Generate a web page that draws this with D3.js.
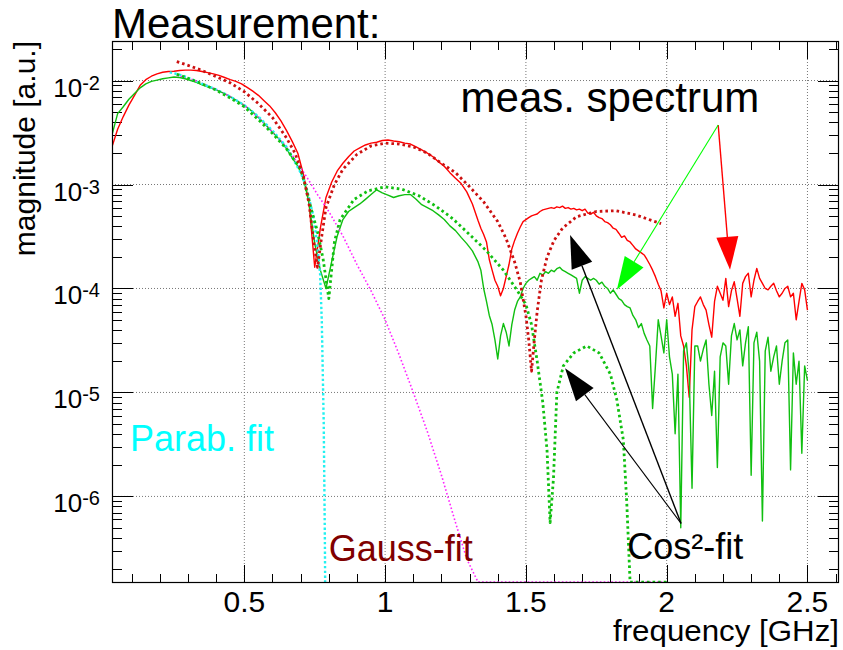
<!DOCTYPE html>
<html><head><meta charset="utf-8">
<script src="https://cdn.jsdelivr.net/npm/d3@7"></script>
<style>
body{margin:0;background:#fff}
svg{display:block}
text{font-family:"Liberation Sans",Arial,Helvetica,sans-serif}
</style>
</head><body>
<svg id="c" width="843" height="650"></svg>
<script>
// ---------------- data ----------------
// measured spectra: frequency grid (GHz)
const freqMeasA = d3.range(0, 66).map(i => +(0.03 + 0.02 * i).toFixed(2));   // 0.03 .. 1.33
const freqMeasB = d3.range(0, 117).map(i => +(1.34 + 0.01 * i).toFixed(2));  // 1.34 .. 2.50
const freqMeas = freqMeasA.concat(freqMeasB);

const measRed = [
 2.3e-3,3.4e-3,4.5e-3,5.8e-3,7.2e-3,9.0e-3,1.02e-2,1.1e-2,1.16e-2,1.2e-2,
 1.22e-2,1.23e-2,1.25e-2,1.26e-2,1.26e-2,1.25e-2,1.22e-2,1.19e-2,1.16e-2,1.12e-2,
 1.07e-2,1.02e-2,9.8e-3,9.3e-3,8.6e-3,7.9e-3,7.2e-3,6.4e-3,5.7e-3,4.9e-3,
 4.1e-3,3.3e-3,2.6e-3,2.0e-3,1.25e-3,6.5e-4,1.6e-4,3.8e-4,7.5e-4,1.05e-3,
 1.35e-3,1.6e-3,1.85e-3,2.1e-3,2.25e-3,2.4e-3,2.5e-3,2.55e-3,2.65e-3,2.68e-3,
 2.62e-3,2.58e-3,2.5e-3,2.45e-3,2.3e-3,2.15e-3,2.0e-3,1.85e-3,1.65e-3,1.5e-3,
 1.3e-3,1.15e-3,1.02e-3,8.5e-4,6.5e-4,4.5e-4,
 // 1.34 ..
 3.8e-4,3.3e-4,2.8e-4,1.9e-4,1.5e-4,1.2e-4,1.05e-4,8.5e-5,1.0e-4,1.3e-4,
 1.7e-4,2.4e-4,2.9e-4,3.4e-4,3.9e-4,4.4e-4,4.6e-4,4.8e-4,5.0e-4,5.1e-4,
 5.2e-4,5.5e-4,5.7e-4,5.8e-4,5.9e-4,6.0e-4,5.9e-4,6.1e-4,6.0e-4,6.2e-4,
 5.9e-4,6.0e-4,5.8e-4,5.9e-4,5.7e-4,5.8e-4,5.6e-4,5.8e-4,5.3e-4,5.2e-4,
 5.4e-4,5.0e-4,4.8e-4,4.7e-4,4.4e-4,4.3e-4,4.1e-4,3.8e-4,3.7e-4,3.4e-4,
 3.1e-4,3.2e-4,2.9e-4,2.8e-4,2.6e-4,2.4e-4,2.3e-4,2.2e-4,2.1e-4,1.9e-4,
 1.7e-4,1.5e-4,1.3e-4,1.1e-4,9.5e-5,6.5e-5,9.0e-5,7.0e-5,8.3e-5,5.4e-5,
 7.2e-5,3.5e-5,2.8e-5,1.8e-5,9.0e-6,4.0e-5,6.7e-5,7.5e-5,8.3e-5,7.0e-5,
 6.2e-5,4.5e-5,3.4e-5,7.5e-5,1.05e-4,9.0e-5,7.7e-5,1.25e-4,6.7e-5,9.5e-5,
 1.16e-4,8.0e-5,5.4e-5,1.12e-4,1.3e-4,1.4e-4,8.3e-5,1.2e-4,1.56e-4,1.25e-4,
 1.12e-4,1.0e-4,9.7e-5,1.05e-4,1.12e-4,9.5e-5,8.3e-5,9.0e-5,1.0e-4,1.05e-4,
 8.3e-5,9.0e-5,5.0e-5,7.5e-5,1.12e-4,9.7e-5,6.2e-5
];

const measGreen = [
 3.0e-3,4.8e-3,5.6e-3,6.6e-3,7.5e-3,8.5e-3,9.3e-3,9.8e-3,1.01e-2,1.04e-2,
 1.06e-2,1.08e-2,1.07e-2,1.04e-2,1.0e-2,9.6e-3,9.1e-3,8.7e-3,8.3e-3,7.9e-3,
 7.5e-3,7.0e-3,6.5e-3,6.0e-3,5.5e-3,5.0e-3,4.4e-3,3.9e-3,3.4e-3,3.0e-3,
 2.6e-3,2.2e-3,1.8e-3,1.5e-3,1.15e-3,6.5e-4,2.7e-4,1.5e-4,1.0e-4,1.8e-4,
 3.2e-4,4.6e-4,5.5e-4,6.0e-4,6.5e-4,7.2e-4,8.0e-4,8.9e-4,8.3e-4,7.9e-4,
 7.5e-4,7.8e-4,8.0e-4,8.0e-4,7.2e-4,6.4e-4,6.0e-4,5.6e-4,5.1e-4,4.6e-4,
 4.0e-4,3.6e-4,3.1e-4,2.7e-4,2.3e-4,1.8e-4,
 // 1.34 ..
 1.5e-4,1.0e-4,7.5e-5,5.5e-5,4.5e-5,3.2e-5,2.1e-5,3.5e-5,4.6e-5,3.8e-5,
 2.8e-5,4.5e-5,6.2e-5,7.5e-5,8.3e-5,1.0e-4,1.12e-4,1.2e-4,1.25e-4,1.3e-4,
 1.2e-4,1.4e-4,1.35e-4,1.45e-4,1.4e-4,1.5e-4,1.45e-4,1.55e-4,1.6e-4,1.5e-4,
 1.45e-4,1.4e-4,1.35e-4,1.3e-4,1.25e-4,9.0e-5,1.2e-4,1.3e-4,1.25e-4,1.2e-4,
 1.25e-4,1.2e-4,1.1e-4,1.15e-4,1.05e-4,1.0e-4,9.0e-5,9.7e-5,8.8e-5,8.0e-5,
 7.7e-5,7.0e-5,6.7e-5,6.5e-5,5.5e-5,5.0e-5,4.2e-5,4.6e-5,3.7e-5,3.2e-5,
 2.8e-5,7.0e-6,1.8e-5,5.0e-5,3.5e-5,2.4e-5,5.0e-5,2.2e-5,1.5e-5,4.0e-6,
 1.5e-5,5.0e-7,2.5e-5,3.0e-5,1.5e-5,1.2e-6,2.8e-5,2.8e-5,2.0e-5,2.6e-5,
 3.2e-5,1.2e-5,6.0e-6,1.6e-5,1.9e-6,2.2e-5,3.0e-5,2.8e-5,1.2e-5,3.5e-5,
 4.6e-5,3.2e-5,4.0e-5,1.8e-5,3.0e-5,4.3e-5,1.6e-6,3.0e-5,3.8e-5,2.0e-5,
 5.8e-7,2.5e-5,3.4e-5,1.6e-5,2.2e-5,2.8e-5,1.2e-5,2.0e-5,3.0e-5,3.2e-5,
 1.8e-6,2.4e-5,1.2e-5,2.0e-5,2.6e-6,1.8e-5,1.3e-5
];

// Cos^2 fits
const freqCosRed = [0.26,0.30,0.35,0.40,0.45,0.50,0.55,0.60,0.65,0.68,0.71,0.73,0.745,0.76,0.775,0.79,0.82,0.85,0.90,0.95,1.00,1.05,1.10,1.15,1.20,1.25,1.30,1.35,1.40,1.43,1.46,1.48,1.50,1.51,1.52,1.53,1.54,1.555,1.575,1.60,1.63,1.68,1.75,1.82,1.89,1.98];
const fitCosRed  = [1.52e-2,1.4e-2,1.25e-2,1.09e-2,9.5e-3,7.8e-3,6.0e-3,4.4e-3,2.8e-3,2.0e-3,1.2e-3,6.5e-4,3.0e-4,1.6e-4,3.2e-4,6.0e-4,1.0e-3,1.4e-3,1.95e-3,2.35e-3,2.5e-3,2.45e-3,2.3e-3,2.0e-3,1.6e-3,1.3e-3,9.5e-4,6.8e-4,4.4e-4,3.0e-4,1.8e-4,1.15e-4,5.5e-5,3.2e-5,1.6e-5,3.2e-5,6.0e-5,1.2e-4,2.0e-4,2.9e-4,3.8e-4,4.9e-4,5.5e-4,5.6e-4,5.1e-4,4.2e-4];

const freqCosGreen = [0.26,0.30,0.35,0.40,0.45,0.50,0.55,0.60,0.65,0.70,0.72,0.74,0.76,0.78,0.80,0.82,0.84,0.89,0.94,1.00,1.06,1.12,1.18,1.24,1.30,1.36,1.42,1.47,1.50,1.52,1.54,1.56,1.575,1.586,1.598,1.61,1.633,1.67,1.716,1.76,1.80,1.823,1.846,1.858,1.87,2.00];
const fitCosGreen  = [1.15e-2,1.05e-2,9.3e-3,8.1e-3,6.8e-3,5.6e-3,4.2e-3,3.1e-3,2.2e-3,1.4e-3,9.0e-4,5.5e-4,3.5e-4,1.9e-4,8.0e-5,2.8e-4,4.6e-4,7.2e-4,8.7e-4,9.5e-4,9.0e-4,7.8e-4,6.2e-4,4.7e-4,3.3e-4,2.3e-4,1.5e-4,9.5e-5,7.0e-5,4.5e-5,2.0e-5,8.0e-6,2.8e-6,5.6e-7,1.5e-6,1.0e-5,1.8e-5,2.4e-5,2.8e-5,2.4e-5,1.5e-5,8.5e-6,3.5e-6,9.0e-7,1.5e-7,1.5e-7];

// Parabolic fit
const freqParab = [0.235,0.28,0.35,0.40,0.45,0.50,0.55,0.60,0.65,0.70,0.72,0.745,0.757,0.769,0.775,0.782,0.786,0.787];
const fitParab  = [1.2e-2,1.12e-2,9.3e-3,8.2e-3,7.0e-3,5.8e-3,4.5e-3,3.3e-3,2.3e-3,1.3e-3,9.5e-4,5.0e-4,2.9e-4,1.4e-4,5.0e-5,5.0e-6,4.0e-7,1.5e-7];

// Gauss fit
const freqGauss = [0.26,0.30,0.35,0.40,0.45,0.50,0.55,0.60,0.65,0.70,0.72,0.76,0.80,0.85,0.90,0.95,1.00,1.05,1.10,1.15,1.20,1.25,1.29,1.33,2.00];
const fitGauss  = [1.12e-2,1.06e-2,9.4e-3,8.2e-3,7.0e-3,5.8e-3,4.4e-3,3.2e-3,2.3e-3,1.45e-3,1.2e-3,8.0e-4,5.5e-4,3.2e-4,1.7e-4,9.5e-5,5.0e-5,2.3e-5,1.0e-5,4.2e-6,1.6e-6,5.6e-7,2.5e-7,1.5e-7,1.5e-7];

// axis ticks
const xTickValues = [0.5, 1, 1.5, 2, 2.5];
const xTickLabels = ["0.5", "1", "1.5", "2", "2.5"];
const yDecades = [-6, -5, -4, -3, -2];

// annotations (data coordinates: [GHz, magnitude])
const arrowMeasFrom = [2.183, 3.73e-3];
const arrowMeasRedTip = [2.225, 1.51e-4];
const arrowMeasGreenTip = [1.823, 9.7e-5];
const arrowCosFrom = [2.051, 5.5e-7];
const arrowCosTip1 = [1.657, 3.27e-4];
const arrowCosTip2 = [1.639, 1.71e-5];
const labelMeas = [1.268, 4.97e-3];
const labelParab = [0.094, 2.75e-6];
const labelGauss = [0.800, 2.4e-7];
const labelCos = [1.860, 2.5e-7];

// ---------------- chart ----------------
const svg = d3.select("#c");
const L = 112, R = 839, T = 41, B = 583;
const x = d3.scaleLinear().domain([0.03, 2.612]).range([L, R]);
const y = d3.scaleLog().domain([1.47e-7, 2.4e-2]).range([B, T]);

svg.append("rect").attr("width", 843).attr("height", 650).attr("fill", "#fff");

svg.append("defs").append("clipPath").attr("id", "clip")
  .append("rect").attr("x", L).attr("y", T).attr("width", R - L).attr("height", B - T);

// grid
const grid = svg.append("g").attr("stroke", "#777").attr("stroke-width", 1).attr("stroke-dasharray", "1,2");
xTickValues.forEach(v => grid.append("line").attr("x1", x(v)).attr("x2", x(v)).attr("y1", T).attr("y2", B));
yDecades.forEach(k => grid.append("line").attr("x1", L).attr("x2", R).attr("y1", y(Math.pow(10, k))).attr("y2", y(Math.pow(10, k))));

// ticks
const ticks = svg.append("g").attr("stroke", "#000").attr("stroke-width", 1);
d3.range(1, 27).forEach(i => {
  const v = i / 10;
  if (v > 2.612) return;
  const major = (i % 5 === 0);
  const len = major ? 18 : 9;
  const px = Math.round(x(v)) + 0.5;
  ticks.append("line").attr("x1", px).attr("x2", px).attr("y1", B).attr("y2", B - len);
  ticks.append("line").attr("x1", px).attr("x2", px).attr("y1", T).attr("y2", T + len);
});
for (let k = -7; k <= -1; k++) {
  for (let m = 1; m <= 9; m++) {
    const v = m * Math.pow(10, k);
    if (v < 1.47e-7 || v > 2.4e-2) continue;
    const len = m === 1 ? 21 : 10;
    const py = Math.round(y(v)) + 0.5;
    ticks.append("line").attr("x1", L).attr("x2", L + len).attr("y1", py).attr("y2", py);
    ticks.append("line").attr("x1", R).attr("x2", R - len).attr("y1", py).attr("y2", py);
  }
}

// curves
const plot = svg.append("g").attr("clip-path", "url(#clip)");
const line = d3.line().x(d => x(d[0])).y(d => y(d[1]));
function series(fx, vals, color, width, dash) {
  const n = Math.min(fx.length, vals.length);
  const pts = d3.range(n).map(i => [fx[i], vals[i]]);
  const p = plot.append("path").datum(pts).attr("d", line)
    .attr("fill", "none").attr("stroke", color).attr("stroke-width", width)
    .attr("stroke-linejoin", "round");
  if (dash) p.attr("stroke-dasharray", dash);
}
series(freqMeas, measRed, "#ff0000", 1.4);
series(freqMeas, measGreen, "#10bf10", 1.4);
series(freqGauss, fitGauss, "#ff22ff", 1.6, "1.6,2.2");
series(freqParab, fitParab, "#22f0f0", 2.4, "2.4,2.4");
series(freqCosGreen, fitCosGreen, "#10c010", 2.8, "2.6,3");
series(freqCosRed, fitCosRed, "#cc1010", 2.8, "2.6,3");

// arrows
function arrow(from, to, color, width) {
  const x0 = x(from[0]), y0 = y(from[1]), x1 = x(to[0]), y1 = y(to[1]);
  const dx = x1 - x0, dy = y1 - y0, len = Math.hypot(dx, dy);
  const ux = dx / len, uy = dy / len;
  const hl = 33, hw = 11;
  const bx = x1 - ux * hl, by = y1 - uy * hl;
  svg.append("line").attr("x1", x0).attr("y1", y0).attr("x2", bx).attr("y2", by)
    .attr("stroke", color).attr("stroke-width", width);
  svg.append("path")
    .attr("d", `M${x1},${y1}L${bx - uy * hw},${by + ux * hw}L${bx + uy * hw},${by - ux * hw}Z`)
    .attr("fill", color);
}
arrow(arrowMeasFrom, arrowMeasRedTip, "#ff0000", 1.4);
arrow(arrowMeasFrom, arrowMeasGreenTip, "#00ff00", 1.1);
arrow(arrowCosFrom, arrowCosTip1, "#000", 1.4);
arrow(arrowCosFrom, arrowCosTip2, "#000", 1.1);

// frame
svg.append("rect").attr("x", L + 0.5).attr("y", T + 0.5).attr("width", R - L - 1).attr("height", B - T - 1)
  .attr("fill", "none").attr("stroke", "#000").attr("stroke-width", 1.2);

// axis labels
xTickValues.forEach((v, i) => {
  svg.append("text").attr("x", x(v)).attr("y", 612).attr("text-anchor", "middle")
    .attr("font-size", 30).attr("fill", "#000").text(xTickLabels[i]);
});
yDecades.forEach(k => {
  const t = svg.append("text").attr("x", 100).attr("y", y(Math.pow(10, k)) + 16)
    .attr("text-anchor", "end").attr("font-size", 26).attr("fill", "#000");
  t.append("tspan").text("10");
  t.append("tspan").attr("dy", -7).attr("font-size", 20).text(String(k));
});

svg.append("text").attr("x", R).attr("y", 641).attr("text-anchor", "end")
  .attr("font-size", 29).attr("textLength", 226).attr("lengthAdjust", "spacingAndGlyphs")
  .text("frequency [GHz]");
svg.append("text").attr("transform", "translate(35,41) rotate(-90)").attr("text-anchor", "end")
  .attr("font-size", 30).text("magnitude [a.u.]");

svg.append("text").attr("x", 112).attr("y", 38).attr("font-size", 42).text("Measurement:");

svg.append("text").attr("x", x(labelMeas[0])).attr("y", y(labelMeas[1])).attr("font-size", 42).text("meas. spectrum");
svg.append("text").attr("x", x(labelParab[0])).attr("y", y(labelParab[1])).attr("font-size", 36).attr("fill", "#00ffff").text("Parab. fit");
svg.append("text").attr("x", x(labelGauss[0])).attr("y", y(labelGauss[1])).attr("font-size", 36).attr("fill", "#800000").text("Gauss-fit");
svg.append("text").attr("x", x(labelCos[0])).attr("y", y(labelCos[1])).attr("font-size", 36).attr("fill", "#000").text("Cos²-fit");
</script>
</body></html>
